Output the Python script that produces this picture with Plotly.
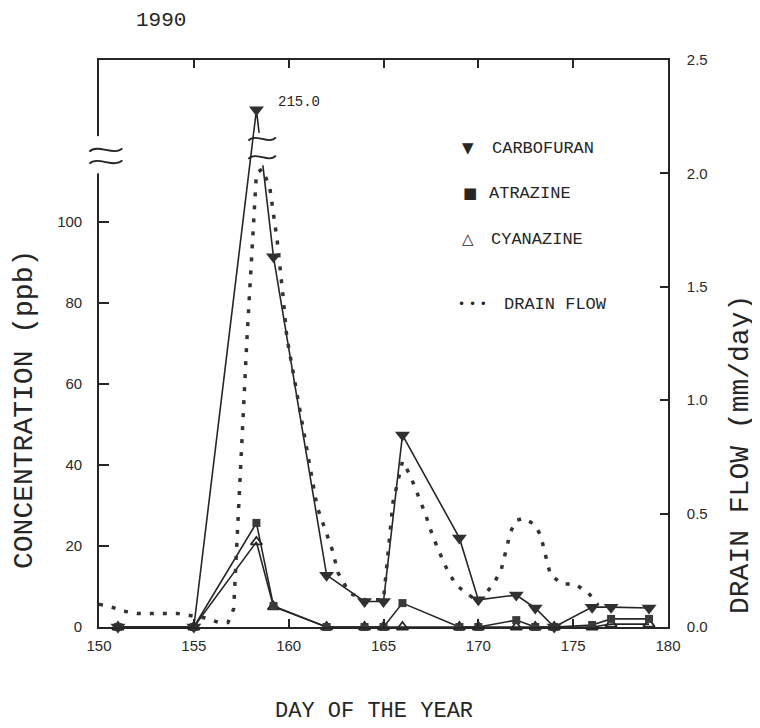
import plotly.graph_objects as go

# ---------------- data ----------------
title_text = "1990"
x_label = "DAY OF THE YEAR"
y_label = "CONCENTRATION (ppb)"
y2_label = "DRAIN FLOW (mm/day)"

sample_days = [151, 155, 158.3, 159.2, 162, 164, 165, 166, 169, 170, 172, 173, 174, 176, 177, 179]
carbofuran = [0, 0, 215.0, 91.4, 12.8, 6.3, 6.3, 47.4, 22.0, 6.7, 7.9, 4.7, 0, 4.9, 4.9, 4.7]
atrazine = [0, 0, 25.7, 5.2, 0, 0, 0, 5.9, 0, 0, 1.7, 0, 0, 0.5, 2.0, 2.0]
cyanazine = [0, 0, 21.0, 5.0, 0, 0, 0, 0, 0, 0, 0, 0, 0, 0, 0.7, 0.7]

flow_days = [150.0, 150.6, 151.3, 152.0, 154.1, 154.9, 155.6, 156.3, 156.8, 157.1, 157.4, 157.8,
             158.3, 158.6, 159.0, 159.4, 159.7, 159.9, 161.5, 161.8, 162.3, 162.6, 163.2, 164.0,
             165.0, 165.5, 166.0, 166.4, 166.7, 167.2, 167.6, 168.2, 168.5, 168.9, 170.0, 170.8,
             171.2, 171.5, 171.7, 172.0, 172.4, 173.0, 173.3, 173.5, 173.8, 174.4, 175.1, 175.8, 176.3]
drain_flow = [0.10, 0.09, 0.07, 0.06, 0.06, 0.05, 0.04, 0.02, 0.02, 0.08, 0.62, 1.27,
              2.00, 2.02, 1.94, 1.70, 1.46, 1.28, 0.53, 0.46, 0.34, 0.24, 0.15, 0.12,
              0.12, 0.55, 0.73, 0.67, 0.61, 0.50, 0.40, 0.28, 0.23, 0.18, 0.11, 0.19,
              0.25, 0.35, 0.42, 0.47, 0.48, 0.45, 0.40, 0.33, 0.23, 0.19, 0.19, 0.15, 0.10]

x_ticks = [150, 155, 160, 165, 170, 175, 180]
y_ticks = [0, 20, 40, 60, 80, 100]
y2_ticks = [0.0, 0.5, 1.0, 1.5, 2.0, 2.5]
peak_label = "215.0"
legend_names = ["CARBOFURAN", "ATRAZINE", "CYANAZINE", "DRAIN FLOW"]

# ---------------- broken concentration axis ----------------
BREAK_LOW = 115.0
BREAK_HIGH = 200.0
UPPER_SCALE = 0.68


def to_axis(v):
    if v <= BREAK_LOW:
        return v
    return 117.5 + (v - BREAK_HIGH) * UPPER_SCALE


INK = "#262626"
MONO = "Liberation Mono"
TICKFONT = dict(family="Liberation Sans", size=15, color="#2a2a2a")

# plot area in page pixels (page has an 8px body margin)
L, R, T, B = 99, 668, 60, 627
OFF = 8
W, H = 760 - OFF, 728 - OFF


def px(xp):
    return (xp - L) / (R - L)


def py(yp):
    return (B - yp) / (B - T)


fig = go.Figure()

fig.add_trace(go.Scatter(
    x=flow_days, y=drain_flow, yaxis="y2", mode="lines", name=legend_names[3],
    line=dict(color="#333333", width=3.5, dash="4px,9px"), showlegend=False, hoverinfo="skip"))

fig.add_trace(go.Scatter(
    x=sample_days, y=[to_axis(v) for v in cyanazine], mode="lines+markers", name=legend_names[2],
    line=dict(color=INK, width=1.6),
    marker=dict(symbol="triangle-up-open", size=10, color=INK, line=dict(width=1.8, color=INK)),
    cliponaxis=False, showlegend=False))

fig.add_trace(go.Scatter(
    x=sample_days, y=[to_axis(v) for v in atrazine], mode="lines+markers", name=legend_names[1],
    line=dict(color=INK, width=1.6),
    marker=dict(symbol="square", size=8, color="#3a3a3a"),
    cliponaxis=False, showlegend=False))

fig.add_trace(go.Scatter(
    x=sample_days, y=[to_axis(v) for v in carbofuran], mode="lines+markers", name=legend_names[0],
    line=dict(color=INK, width=1.6),
    marker=dict(symbol="triangle-down", size=13, color="#303030"),
    cliponaxis=False, showlegend=False))

# ---------------- axis break symbols ----------------
def tilde(xc, yc, w, h):
    return (f"M {xc - w / 2},{yc - 0.4 * h} "
            f"C {xc - w / 4},{yc + 1.6 * h} {xc + w / 4},{yc - 1.6 * h} {xc + w / 2},{yc + 0.4 * h}")


shapes = []
# gap in left axis line
shapes.append(dict(type="rect", xref="paper", yref="y", x0=-0.012, x1=0.012,
                   y0=112.0, y1=121.2, fillcolor="white",
                   line=dict(width=0), layer="above"))
for yc in (117.8, 114.8):
    shapes.append(dict(type="path", xref="paper", yref="y", path=tilde(0.012, yc, 0.058, 1.0),
                       line=dict(color=INK, width=1.8), layer="above"))
# gap in carbofuran line
shapes.append(dict(type="rect", xref="x", yref="y", x0=158.2, x1=158.95, y0=114.0, y1=122.0,
                   fillcolor="white", line=dict(width=0), layer="above"))
for yc in (120.5, 116.0):
    shapes.append(dict(type="path", xref="x", yref="y", path=tilde(158.6, yc, 1.45, 1.0),
                       line=dict(color=INK, width=1.8), layer="above"))

# ---------------- annotations ----------------
def note(text, xp, yp, size, family=MONO, xanchor="center", angle=0):
    return dict(text=text, xref="paper", yref="paper", x=px(xp), y=py(yp),
                xanchor=xanchor, yanchor="middle", textangle=angle, showarrow=False,
                font=dict(family=family, size=size, color=INK))


ann = [
    note(title_text, 161, 20, 21),
    note(x_label, 374, 711, 22),
    note(y_label, 24, 410, 28, angle=-90),
    note(y2_label, 740, 455, 28, angle=-90),
    dict(text=peak_label, x=sample_days[2], y=to_axis(carbofuran[2]), xref="x", yref="y",
         xanchor="left", yanchor="middle", xshift=20, yshift=8, showarrow=False,
         font=dict(family=MONO, size=14, color=INK)),
]

legend_rows = [("▼", 468, 148), ("■", 470, 193), ("△", 468, 239), ("• • •", 472, 304)]
legend_text_x = [490, 487, 489, 502]
for (sym, sx, sy), name, tx in zip(legend_rows, legend_names, legend_text_x):
    ann.append(note(sym, sx, sy, 15 if sym != "• • •" else 12, family="DejaVu Sans"))
    ann.append(note(name, tx, sy, 17, xanchor="left"))

fig.update_layout(
    width=W, height=H, autosize=False,
    margin=dict(l=L - OFF, r=W - (R - OFF), t=T - OFF, b=H - (B - OFF), pad=0),
    paper_bgcolor="white", plot_bgcolor="white",
    showlegend=False,
    shapes=shapes, annotations=ann,
    xaxis=dict(range=[150, 180], tickvals=x_ticks, ticktext=[str(v) for v in x_ticks],
               ticks="inside", ticklen=8, tickwidth=1.5, tickcolor=INK,
               showline=True, linewidth=1.6, linecolor=INK, mirror="ticks",
               showgrid=False, zeroline=False, tickfont=TICKFONT, ticklabelstandoff=4),
    yaxis=dict(range=[0, (B - T) / 4.05], tickvals=y_ticks, ticktext=[str(v) for v in y_ticks],
               ticks="inside", ticklen=10, tickwidth=1.5, tickcolor=INK,
               showline=True, linewidth=1.6, linecolor=INK,
               showgrid=False, zeroline=False, tickfont=TICKFONT, ticklabelstandoff=12),
    yaxis2=dict(range=[0, 2.5], overlaying="y", side="right", tickvals=y2_ticks,
                ticktext=[f"{v:.1f}" for v in y2_ticks],
                ticks="inside", ticklen=8, tickwidth=1.5, tickcolor=INK,
                showline=True, linewidth=1.6, linecolor=INK,
                showgrid=False, zeroline=False, tickfont=TICKFONT, ticklabelstandoff=14),
)

fig.write_html("out.html")
